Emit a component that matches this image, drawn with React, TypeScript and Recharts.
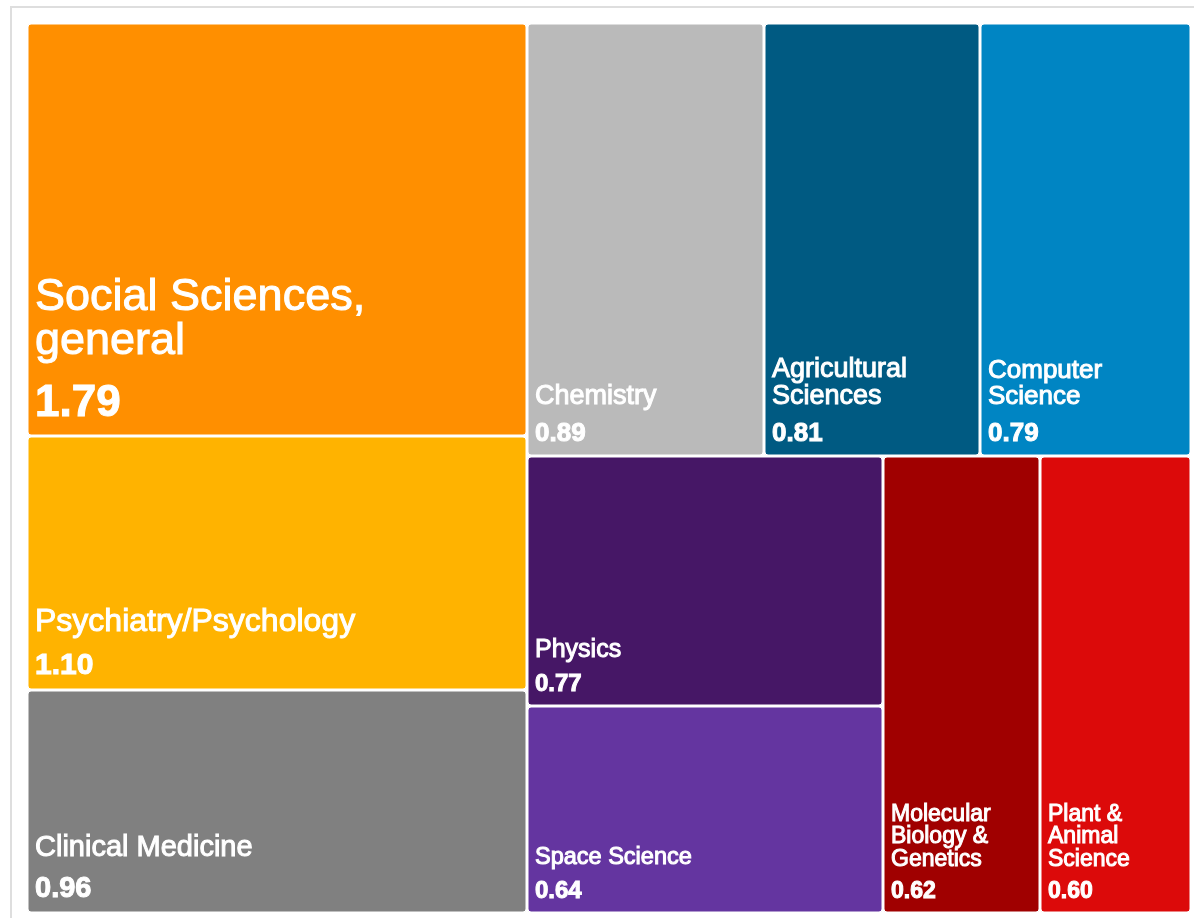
import { Treemap } from 'recharts'

const categories = [
  'Social Sciences, general',
  'Psychiatry/Psychology',
  'Clinical Medicine',
  'Chemistry',
  'Agricultural Sciences',
  'Computer Science',
  'Physics',
  'Space Science',
  'Molecular Biology & Genetics',
  'Plant & Animal Science',
]
const scores = [1.79, 1.1, 0.96, 0.89, 0.81, 0.79, 0.77, 0.64, 0.62, 0.6]

const colors = ['#ff8f00', '#ffb300', '#808080', '#bababa', '#005a82', '#0085c3', '#461766', '#6435a0', '#a00000', '#dc0a0a']
const nameSizes = [45, 32, 29, 27, 27, 26, 25, 23.5, 23, 23]
const valueSizes = [44, 30, 29, 26, 26, 26, 24, 24, 23, 23]

const data = categories.map((name, i) => ({ name, size: scores[i] }))

const FONT = '"Liberation Sans", Arial, sans-serif'
let ctx: CanvasRenderingContext2D | null = null
function textWidth(text: string, size: number) {
  if (!ctx) ctx = document.createElement('canvas').getContext('2d')
  if (!ctx) return text.length * size * 0.5
  ctx.font = `${size}px ${FONT}`
  return ctx.measureText(text).width
}

function wrap(text: string, size: number, maxWidth: number) {
  const words = text.split(' ')
  const lines: string[] = []
  let cur = ''
  for (const w of words) {
    const next = cur ? cur + ' ' + w : w
    if (cur && textWidth(next, size) > maxWidth) {
      lines.push(cur)
      cur = w
    } else cur = next
  }
  if (cur) lines.push(cur)
  return lines
}

function CellContent(props: any) {
  const { x, y, width, height, depth, name, value } = props
  if (depth !== 1) return null
  const i = categories.indexOf(name)
  const fs = nameSizes[i]
  const vs = valueSizes[i]
  const lines = wrap(name, fs, width - 26)
  const valueY = y + height - (0.25 * vs + 9)
  const lastNameY = valueY - 1.42 * vs
  const lh = fs * 0.97
  return (
    <g>
      <rect x={x + 1} y={y + 1} width={width - 2} height={height - 2} rx={3} ry={3} fill={colors[i]} />
      {lines.map((l, k) => (
        <text key={k} x={x + 8} y={lastNameY - (lines.length - 1 - k) * lh} fill="#fff" fontSize={fs} fontFamily={FONT}>
          {l}
        </text>
      ))}
      <text x={x + 8} y={valueY} fill="#fff" fontSize={vs} fontWeight="bold" fontFamily={FONT}>
        {Number(value).toFixed(2)}
      </text>
    </g>
  )
}

export default function App() {
  return (
    <div>
      <div
        style={{
          position: 'fixed',
          left: 10,
          top: 6,
          width: 1220,
          height: 940,
          border: '2px solid #dedede',
          boxSizing: 'border-box',
        }}
      />
      <div style={{ position: 'fixed', left: 27, top: 23 }}>
        <Treemap
          width={1164}
          height={890}
          data={data}
          dataKey="size"
          nameKey="name"
          stroke="#fff"
          isAnimationActive={false}
          content={<CellContent />}
        />
      </div>
    </div>
  )
}
